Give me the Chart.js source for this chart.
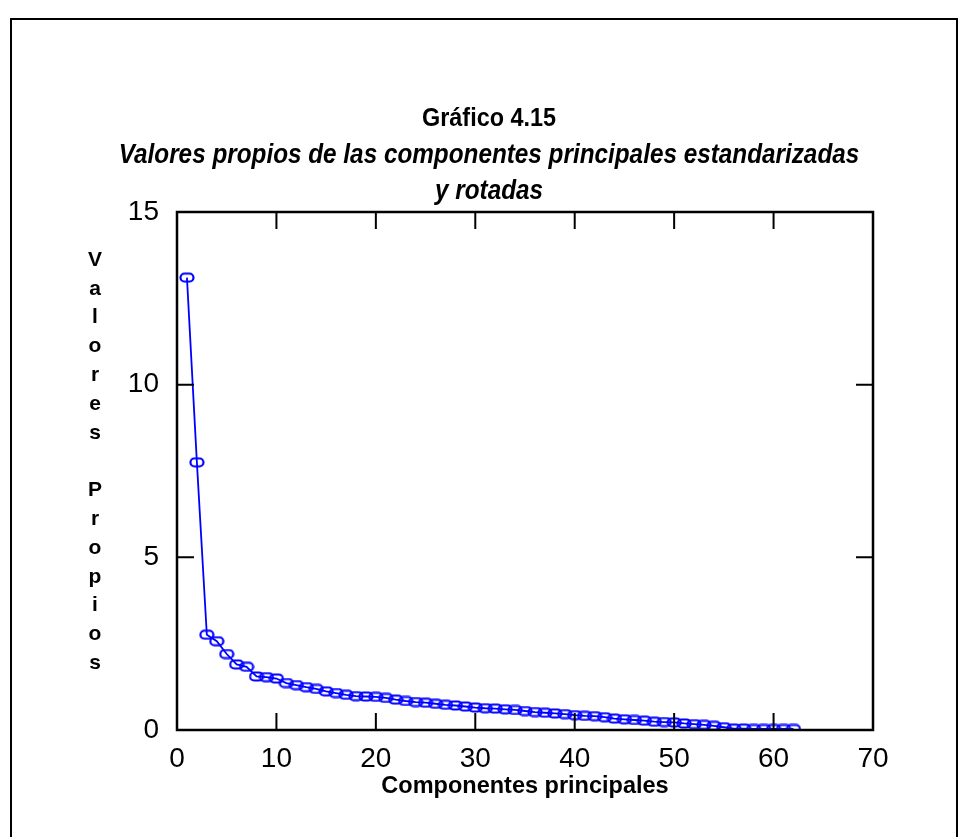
<!DOCTYPE html>
<html>
<head>
<meta charset="utf-8">
<title>Gráfico 4.15</title>
<script src="https://cdn.jsdelivr.net/npm/chart.js@4.4.0/dist/chart.umd.min.js"></script>
<style>
  html, body { margin: 0; padding: 0; background: #fff; }
  #wrap { position: relative; width: 969px; height: 837px; }
</style>
</head>
<body>
<div id="wrap"><canvas id="screeChart"></canvas></div>
<script>
  // Componentes principales (1..62) and their eigenvalues
  const components = [
    1, 2, 3, 4, 5, 6, 7, 8, 9, 10,
    11, 12, 13, 14, 15, 16, 17, 18, 19, 20,
    21, 22, 23, 24, 25, 26, 27, 28, 29, 30,
    31, 32, 33, 34, 35, 36, 37, 38, 39, 40,
    41, 42, 43, 44, 45, 46, 47, 48, 49, 50,
    51, 52, 53, 54, 55, 56, 57, 58, 59, 60,
    61, 62
  ];
  const eigenvalues = [
    13.10, 7.75, 2.76, 2.57, 2.20, 1.90, 1.83, 1.55, 1.53, 1.49,
    1.36, 1.30, 1.24, 1.19, 1.12, 1.07, 1.02, 0.98, 0.97, 0.96,
    0.93, 0.88, 0.84, 0.81, 0.79, 0.76, 0.73, 0.71, 0.68, 0.65,
    0.63, 0.62, 0.60, 0.58, 0.55, 0.52, 0.50, 0.48, 0.46, 0.43,
    0.41, 0.40, 0.37, 0.33, 0.31, 0.29, 0.27, 0.24, 0.23, 0.22,
    0.19, 0.17, 0.15, 0.12, 0.08, 0.04, 0.04, 0.03, 0.03, 0.03,
    0.03, 0.03
  ];
  const xTicks = [0, 10, 20, 30, 40, 50, 60, 70];
  const yTicks = [0, 5, 10, 15];

  const titleMain = 'Gráfico 4.15';
  const titleSub = ['Valores propios de las componentes principales estandarizadas', 'y rotadas'];
  const xTitle = 'Componentes principales';
  const yTitleLetters = ['V', 'a', 'l', 'o', 'r', 'e', 's', '', 'P', 'r', 'o', 'p', 'i', 'o', 's'];

  const BLUE = '#0000ff';
  const FONT = 'Arial, "Liberation Sans", sans-serif';

  // hollow rounded-rectangle marker, like the original plot symbol
  function makeMarker() {
    const c = document.createElement('canvas');
    c.width = 16;
    c.height = 11;
    const ctx = c.getContext('2d');
    ctx.strokeStyle = BLUE;
    ctx.lineWidth = 2.2;
    ctx.beginPath();
    ctx.roundRect(1.5, 1.5, 13, 8, 4);
    ctx.stroke();
    return c;
  }

  // narrow-looking title text: slightly squeezed horizontally
  function squeezedText(ctx, text, cx, cy, squeeze) {
    ctx.save();
    ctx.translate(cx, cy);
    ctx.scale(squeeze, 1);
    ctx.fillText(text, 0, 0);
    ctx.restore();
  }

  // frame, titles, box and inward tick marks
  const decorations = {
    id: 'decorations',
    afterDraw(chart) {
      const ctx = chart.ctx;
      const a = chart.chartArea;
      const xs = chart.scales.x;
      const ys = chart.scales.y;
      ctx.save();

      // outer frame
      ctx.strokeStyle = '#000';
      ctx.lineWidth = 2;
      ctx.beginPath();
      ctx.moveTo(11, 845);
      ctx.lineTo(11, 19);
      ctx.lineTo(957, 19);
      ctx.lineTo(957, 845);
      ctx.stroke();

      // titles
      ctx.fillStyle = '#000';
      ctx.textAlign = 'center';
      ctx.textBaseline = 'middle';
      ctx.font = 'bold 26px ' + FONT;
      squeezedText(ctx, titleMain, 489, 119, 0.9);
      ctx.font = 'italic bold 27px ' + FONT;
      titleSub.forEach((t, i) => squeezedText(ctx, t, 489, 156 + i * 36, 0.9));

      // x axis title
      ctx.font = 'bold 23.5px ' + FONT;
      ctx.fillText(xTitle, (a.left + a.right) / 2, 787);

      // y axis title, one letter per line
      ctx.font = 'bold 21px ' + FONT;
      yTitleLetters.forEach((ch, i) => {
        if (ch) ctx.fillText(ch, 95, 260 + i * 28.8);
      });

      // plot box
      ctx.lineWidth = 2.5;
      ctx.strokeRect(a.left, a.top, a.right - a.left, a.bottom - a.top);

      // inward ticks on all four sides
      const len = 17;
      ctx.lineWidth = 2;
      ctx.beginPath();
      xTicks.forEach(v => {
        const px = xs.getPixelForValue(v);
        ctx.moveTo(px, a.bottom);
        ctx.lineTo(px, a.bottom - len);
        ctx.moveTo(px, a.top);
        ctx.lineTo(px, a.top + len);
      });
      yTicks.forEach(v => {
        const py = ys.getPixelForValue(v);
        ctx.moveTo(a.left, py);
        ctx.lineTo(a.left + len, py);
        ctx.moveTo(a.right, py);
        ctx.lineTo(a.right - len, py);
      });
      ctx.stroke();
      ctx.restore();
    }
  };

  const marker = makeMarker();
  const points = components.map((c, i) => ({ x: c, y: eigenvalues[i] }));

  new Chart(document.getElementById('screeChart'), {
    type: 'line',
    data: {
      datasets: [{
        label: 'Valores propios',
        data: points,
        borderColor: BLUE,
        borderWidth: 1.8,
        backgroundColor: 'transparent',
        pointStyle: marker,
        pointRadius: 6,
        tension: 0,
        fill: false
      }]
    },
    options: {
      responsive: true,
      maintainAspectRatio: false,
      animation: false,
      layout: {
        padding: { top: 212, right: 96, bottom: 0, left: 0 }
      },
      plugins: {
        legend: { display: false },
        tooltip: { enabled: false },
        title: { display: false }
      },
      scales: {
        x: {
          type: 'linear',
          min: 0,
          max: 70,
          afterFit: scale => { scale.height = 107; },
          afterBuildTicks: scale => { scale.ticks = xTicks.map(v => ({ value: v })); },
          grid: { display: false, drawTicks: false },
          border: { display: false },
          ticks: {
            color: '#000',
            padding: 12,
            maxRotation: 0,
            font: { family: FONT, size: 28 }
          }
        },
        y: {
          type: 'linear',
          min: 0,
          max: 15,
          afterFit: scale => { scale.width = 177; },
          afterBuildTicks: scale => { scale.ticks = yTicks.map(v => ({ value: v })); },
          grid: { display: false, drawTicks: false },
          border: { display: false },
          ticks: {
            color: '#000',
            padding: 18,
            font: { family: FONT, size: 28 }
          }
        }
      }
    },
    plugins: [decorations]
  });
</script>
</body>
</html>
